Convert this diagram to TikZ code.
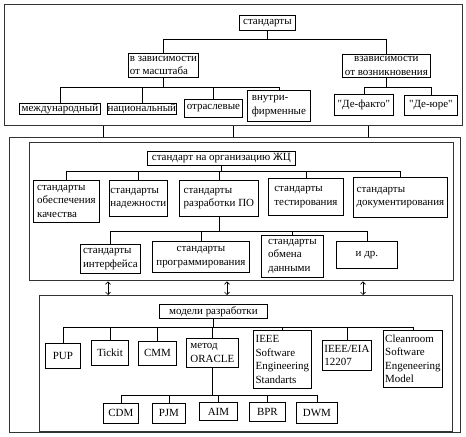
\documentclass[tikz,border=0pt]{standalone}
\usepackage{fontspec}
\setmainfont{Liberation Serif}[Ligatures=TeXOff]
\usetikzlibrary{arrows.meta,shadows}
\begin{document}
\begin{tikzpicture}[x=1bp,y=-1bp,
  every node/.style={font=\fontsize{11}{13.5}\selectfont},
  bx/.style={draw=black, line width=0.8bp, fill=white, inner sep=1bp, anchor=north west,
     align=left, drop shadow={shadow xshift=0.9bp, shadow yshift=-0.9bp, fill=black!55, opacity=1}},
  frm/.style={draw=black!80, line width=1.3bp, inner sep=0pt, anchor=north west},
  ln/.style={line width=0.7bp},
  dar/.style={line width=0.7bp, {Straight Barb[length=2.5bp,width=5bp]}-{Straight Barb[length=2.5bp,width=5bp]}}
]
\useasboundingbox (0,0) rectangle (466,437);
% frames
\node[frm, minimum width=458bp, minimum height=121bp] (F1) at (4,4) {};
\node[frm, minimum width=451bp, minimum height=295bp] (F2) at (9,137) {};
\node[frm, minimum width=424bp, minimum height=138bp] (B1) at (29,142) {};
\node[frm, minimum width=413bp, minimum height=136bp] (B2) at (39,295) {};

% top section
\node[bx, align=center, minimum width=56bp, minimum height=15bp] (std) at (239,15) {стандарты};
\node[bx, minimum width=70bp, minimum height=24bp] (dep1) at (128,53) {в зависимости\\от масштаба};
\node[bx, align=center, minimum width=88bp, minimum height=23bp] (dep2) at (342,54) {взависимости\\от возникновения};
\node[bx, minimum width=81bp, minimum height=11bp, inner sep=0.3bp] (m1) at (19,103) {международный};
\node[bx, minimum width=69bp, minimum height=11bp, inner sep=0.3bp] (m2) at (107,103) {национальный};
\node[bx, minimum width=58bp, minimum height=18bp] (m3) at (184,99) {отраслевые};
\node[bx, minimum width=63bp, minimum height=31bp] (m4) at (247,90) {внутри-\\фирменные};
\node[bx, minimum width=59bp, minimum height=21bp] (r1) at (334,94) {"Де-факто"};
\node[bx, minimum width=53bp, minimum height=20bp] (r2) at (404,95) {"Де-юре"};

\coordinate (ya) at (0,39);
\coordinate (yb) at (0,87);
\foreach \c in {dep1,dep2} \draw[ln] (std.south) -- (std.south |- ya) -| (\c.north);
\foreach \c in {m1,m2,m3,m4} \draw[ln] (dep1.south) -- (dep1.south |- yb) -| (\c.north);
\foreach \c in {r1,r2} \draw[ln] (dep2.south) -- (dep2.south |- yb) -| (\c.north);

\coordinate (xa) at (103,0);
\coordinate (xb) at (233,0);
\coordinate (xc) at (368,0);
\foreach \c in {xa,xb,xc} \draw[ln] (F1.south -| \c) -- (F2.north -| \c);

% life cycle section
\node[bx, align=center, minimum width=148bp, minimum height=14bp] (zc) at (147,151) {стандарт на организацию ЖЦ};
\node[bx, minimum width=66bp, minimum height=42bp] (s1) at (33,180) {стандарты\\обеспечения\\качества};
\node[bx, minimum width=58bp, minimum height=36bp] (s2) at (109,180) {стандарты\\надежности};
\node[bx, minimum width=79bp, minimum height=36bp] (s3) at (179,180) {стандарты\\разработки ПО};
\node[bx, minimum width=75bp, minimum height=37bp] (s4) at (268,178) {стандарты\\тестирования};
\node[bx, minimum width=94bp, minimum height=40bp] (s5) at (353,177) {стандарты\\документирования};
\node[bx, minimum width=60bp, minimum height=29bp] (t1) at (80,244) {стандарты\\интерфейса};
\node[bx, align=center, minimum width=97bp, minimum height=31bp] (t2) at (152,241) {стандарты\\программирования};
\node[bx, minimum width=62bp, minimum height=42bp] (t3) at (261,235) {стандарты\\обмена\\данными};
\node[bx, align=center, minimum width=61bp, minimum height=27bp] (t4) at (336,241) {и др.};

\coordinate (yc) at (0,171);
\coordinate (yd) at (0,231);
\foreach \c in {s1,s2,s3,s4,s5} \draw[ln] (zc.south) -- (zc.south |- yc) -| (\c.north);
\foreach \c in {t1,t2,t3,t4} \draw[ln] (s3.south) -- (s3.south |- yd) -| (\c.north);

\coordinate (xd) at (108,0);
\coordinate (xe) at (227,0);
\coordinate (xf) at (363,0);
\foreach \c in {xd,xe,xf} \draw[dar] (B1.south -| \c) -- (B2.north -| \c);

% models section
\node[bx, align=center, minimum width=108bp, minimum height=14bp] (md) at (159,304) {модели разработки};
\node[bx, align=center, minimum width=35bp, minimum height=25bp] (p1) at (45,343) {PUP};
\node[bx, align=center, minimum width=37bp, minimum height=25bp] (p2) at (91,340) {Tickit};
\node[bx, align=center, minimum width=38bp, minimum height=24bp] (p3) at (138,341) {CMM};
\node[bx, minimum width=52bp, minimum height=29bp] (p4) at (186,338) {метод\\ORACLE};
\node[bx, minimum width=58bp, minimum height=58bp] (p5) at (253,330) {IEEE\\Software\\Engineering\\Standarts};
\node[bx, minimum width=49bp, minimum height=30bp] (p6) at (322,340) {IEEE/EIA\\12207};
\node[bx, minimum width=59bp, minimum height=57bp] (p7) at (383,330) {Cleanroom\\Software\\Engeneering\\Model};
\node[bx, align=center, minimum width=35bp, minimum height=20bp] (q1) at (103,403) {CDM};
\node[bx, align=center, minimum width=33bp, minimum height=20bp] (q2) at (152,403) {PJM};
\node[bx, align=center, minimum width=38bp, minimum height=18bp] (q3) at (199,402) {AIM};
\node[bx, align=center, minimum width=36bp, minimum height=19bp] (q4) at (249,402) {BPR};
\node[bx, align=center, minimum width=41bp, minimum height=21bp] (q5) at (296,402) {DWM};

\coordinate (ye) at (0,327);
\coordinate (yf) at (0,395);
\foreach \c in {p1,p2,p3,p4,p5,p6,p7} \draw[ln] (md.south) -- (md.south |- ye) -| (\c.north);
\foreach \c in {q1,q2,q3,q4,q5} \draw[ln] (p4.south) -- (p4.south |- yf) -| (\c.north);
\end{tikzpicture}
\end{document}
